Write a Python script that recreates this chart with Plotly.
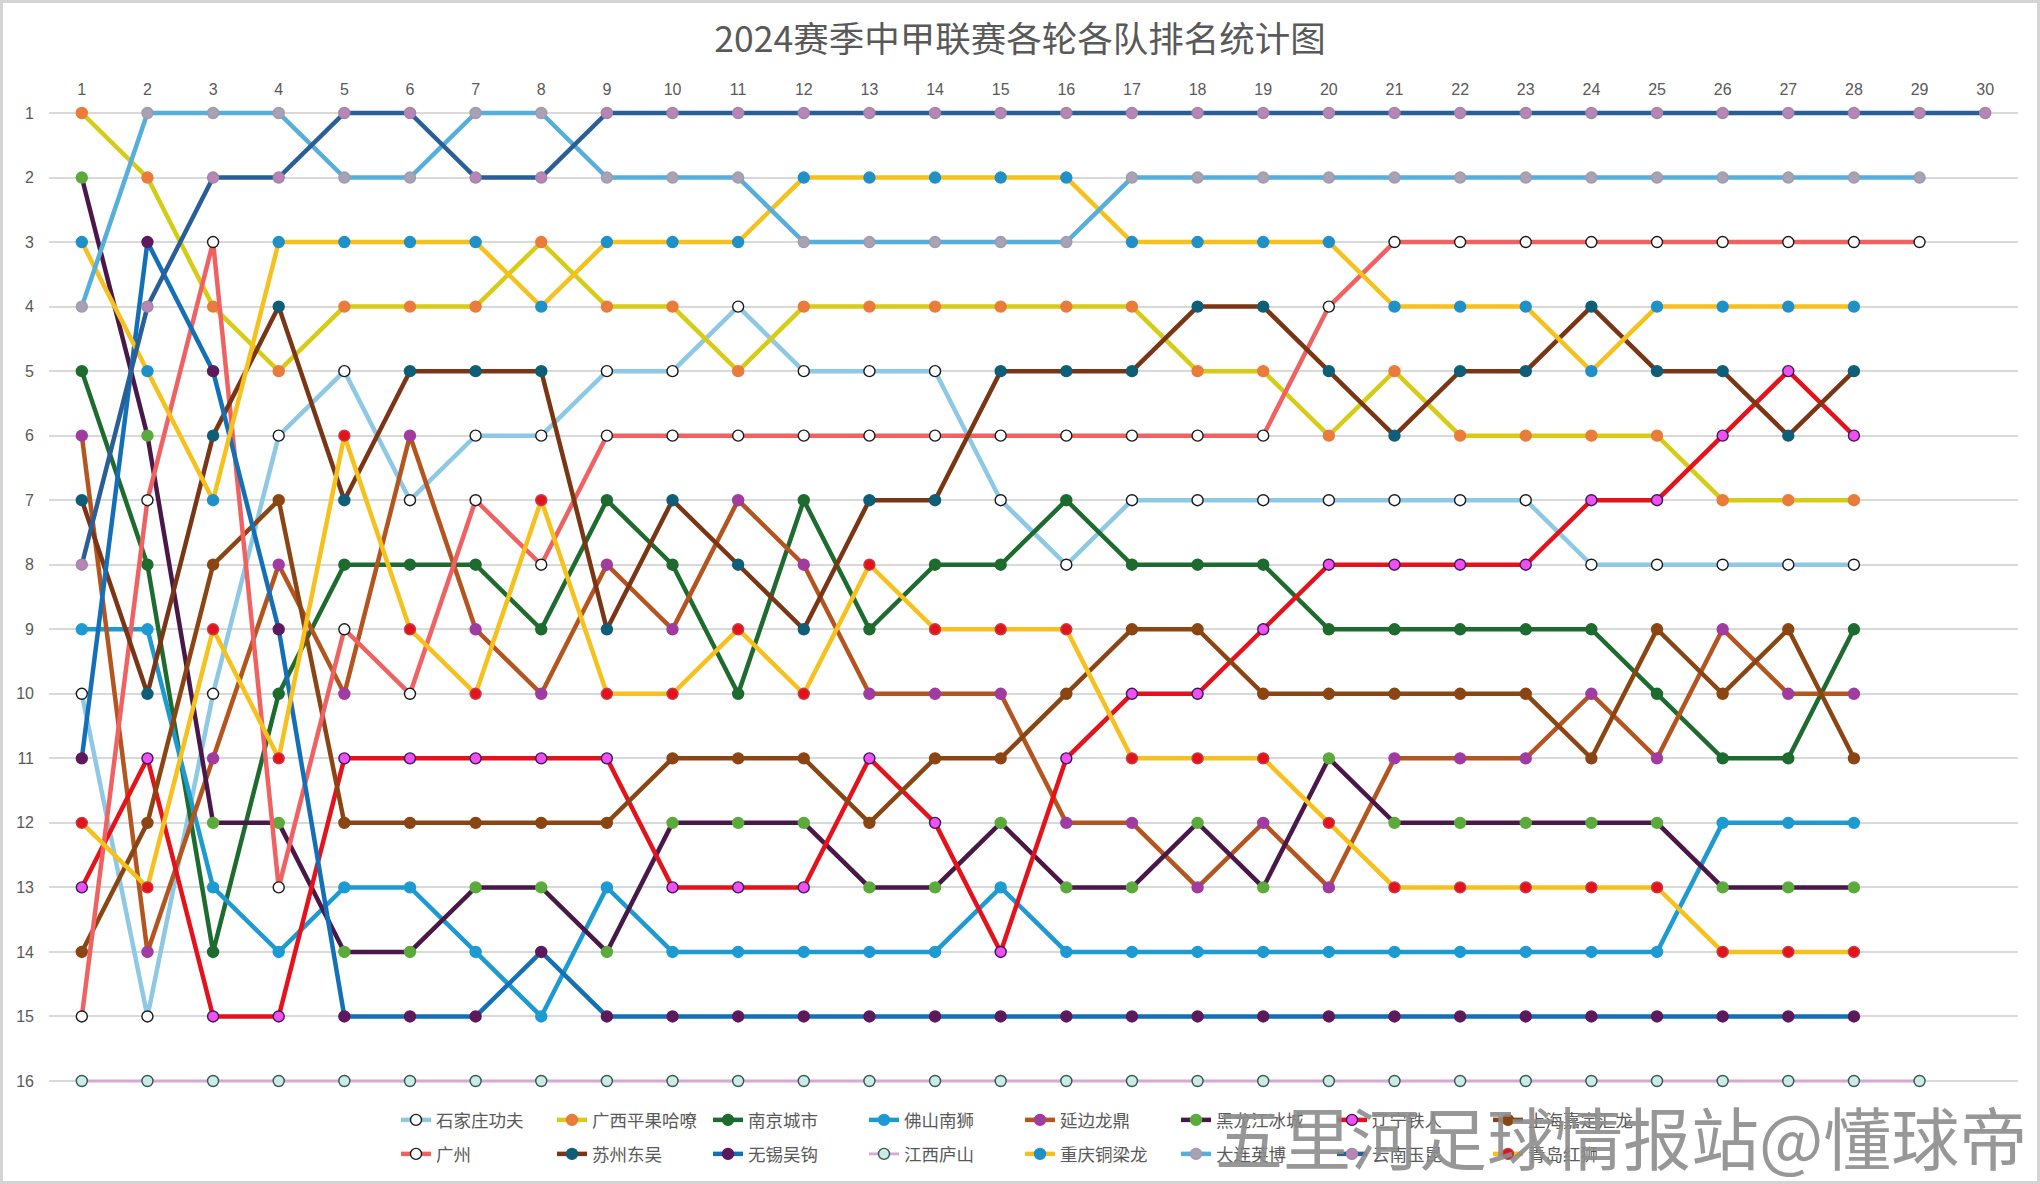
import plotly.graph_objects as go

rounds_all = list(range(1, 31))
x_tick_labels = [str(i) for i in rounds_all]
y_tick_labels = [str(i) for i in range(1, 17)]

title_text = "2024赛季中甲联赛各轮各队排名统计图"
watermark = "五里河足球情报站@懂球帝"

teams = ["石家庄功夫", "广西平果哈嘹", "南京城市", "佛山南狮", "延边龙鼎", "黑龙江冰城", "辽宁铁人", "上海嘉定汇龙",
         "广州", "苏州东吴", "无锡吴钩", "江西庐山", "重庆铜梁龙", "大连英博", "云南玉昆", "青岛红狮"]

# ranks per round (round 1 onward)
shijiazhuang = [10, 15, 10, 6, 5, 7, 6, 6, 5, 5, 4, 5, 5, 5, 7, 8, 7, 7, 7, 7, 7, 7, 7, 8, 8, 8, 8, 8]
guangxi = [1, 2, 4, 5, 4, 4, 4, 3, 4, 4, 5, 4, 4, 4, 4, 4, 4, 5, 5, 6, 5, 6, 6, 6, 6, 7, 7, 7]
nanjing = [5, 8, 14, 10, 8, 8, 8, 9, 7, 8, 10, 7, 9, 8, 8, 7, 8, 8, 8, 9, 9, 9, 9, 9, 10, 11, 11, 9]
foshan = [9, 9, 13, 14, 13, 13, 14, 15, 13, 14, 14, 14, 14, 14, 13, 14, 14, 14, 14, 14, 14, 14, 14, 14, 14, 12, 12, 12]
yanbian = [6, 14, 11, 8, 10, 6, 9, 10, 8, 9, 7, 8, 10, 10, 10, 12, 12, 13, 12, 13, 11, 11, 11, 10, 11, 9, 10, 10]
heilongjiang = [2, 6, 12, 12, 14, 14, 13, 13, 14, 12, 12, 12, 13, 13, 12, 13, 13, 12, 13, 11, 12, 12, 12, 12, 12, 13, 13, 13]
liaoning = [13, 11, 15, 15, 11, 11, 11, 11, 11, 13, 13, 13, 11, 12, 14, 11, 10, 10, 9, 8, 8, 8, 8, 7, 7, 6, 5, 6]
shanghai = [14, 12, 8, 7, 12, 12, 12, 12, 12, 11, 11, 11, 12, 11, 11, 10, 9, 9, 10, 10, 10, 10, 10, 11, 9, 10, 9, 11]
guangzhou = [15, 7, 3, 13, 9, 10, 7, 8, 6, 6, 6, 6, 6, 6, 6, 6, 6, 6, 6, 4, 3, 3, 3, 3, 3, 3, 3, 3, 3]
suzhou = [7, 10, 6, 4, 7, 5, 5, 5, 9, 7, 8, 9, 7, 7, 5, 5, 5, 4, 4, 5, 6, 5, 5, 4, 5, 5, 6, 5]
wuxi = [11, 3, 5, 9, 15, 15, 15, 14, 15, 15, 15, 15, 15, 15, 15, 15, 15, 15, 15, 15, 15, 15, 15, 15, 15, 15, 15, 15]
jiangxi = [16] * 29
chongqing = [3, 5, 7, 3, 3, 3, 3, 4, 3, 3, 3, 2, 2, 2, 2, 2, 3, 3, 3, 3, 4, 4, 4, 5, 4, 4, 4, 4]
dalian = [4, 1, 1, 1, 2, 2, 1, 1, 2, 2, 2, 3, 3, 3, 3, 3, 2, 2, 2, 2, 2, 2, 2, 2, 2, 2, 2, 2, 2]
yunnan = [8, 4, 2, 2, 1, 1, 2, 2, 1, 1, 1, 1, 1, 1, 1, 1, 1, 1, 1, 1, 1, 1, 1, 1, 1, 1, 1, 1, 1, 1]
qingdao = [12, 13, 9, 11, 6, 9, 10, 7, 10, 10, 9, 10, 8, 9, 9, 9, 11, 11, 11, 12, 13, 13, 13, 13, 13, 14, 14, 14]

series = [shijiazhuang, guangxi, nanjing, foshan, yanbian, heilongjiang, liaoning, shanghai,
          guangzhou, suzhou, wuxi, jiangxi, chongqing, dalian, yunnan, qingdao]

line_colors = ["#8DC8E5", "#D6CC16", "#1D6B2E", "#1E9AD3", "#B4541F", "#4A1848", "#E5121B", "#8B4513",
               "#F06262", "#7A3514", "#1370B8", "#D6A8D6", "#F6C11C", "#56AEDA", "#2A5E96", "#F6C11C"]
marker_colors = ["#FFFFFF", "#EA7B3B", "#1D6B2E", "#1E9AD3", "#A03CA0", "#5BAA3C", "#F050F0", "#8B4513",
                 "#FFFFFF", "#0E5E78", "#5C1A5C", "#CDEAE4", "#2090C8", "#A8A2B4", "#BA84BA", "#E5121B"]
marker_edges = ["#1A1A1A", "#EA7B3B", "#1D6B2E", "#1E9AD3", "#A03CA0", "#5BAA3C", "#3A1A5A", "#8B4513",
                "#1A1A1A", "#0E5E78", "#5C1A5C", "#2F5A55", "#2090C8", "#A09AAE", "#9A8A9E", "#C0404A"]
line_widths = [4.5] * 16
line_widths[11] = 2.8

W, H = 2040, 1184
ml, mr, mt, mb = 49, 22, 99, 78
pw = W - ml - mr
ph = H - mt - mb

def px2paper_x(p):
    return (p - ml) / pw

def px2paper_y(p):
    return (H - mb - p) / ph

fig = go.Figure()
for i, (name, ys) in enumerate(zip(teams, series)):
    fig.add_trace(go.Scatter(
        x=rounds_all[:len(ys)], y=ys, name=name, mode="lines+markers",
        line=dict(color=line_colors[i], width=line_widths[i]),
        marker=dict(size=11, color=marker_colors[i],
                    line=dict(color=marker_edges[i], width=1.4)),
        legend="legend" if i < 8 else "legend2",
    ))

legend_common = dict(orientation="h", font=dict(family="Noto Sans CJK SC", size=17.5, color="#595959"),
                     entrywidth=111, entrywidthmode="pixels", bgcolor="rgba(0,0,0,0)",
                     xanchor="left", yanchor="middle", itemwidth=30, traceorder="normal")

fig.update_layout(
    width=W, height=H,
    margin=dict(l=ml, r=mr, t=mt, b=mb),
    paper_bgcolor="white", plot_bgcolor="white",
    title=dict(text=title_text, x=0.5, xanchor="center", y=1 - 40 / H, yanchor="middle",
               font=dict(family="Noto Sans CJK SC", size=35.5, color="#595959")),
    xaxis=dict(range=[0.5, 30.5], side="top", tickmode="array", tickvals=rounds_all, ticktext=x_tick_labels,
               showgrid=False, zeroline=False, showline=False, ticks="",
               tickfont=dict(family="Liberation Sans", size=16, color="#595959")),
    yaxis=dict(range=[16 + 25 / 64.53, 1 - 14 / 64.53], tickmode="array", tickvals=list(range(1, 17)),
               ticktext=y_tick_labels, showgrid=True, gridcolor="#D9D9D9", gridwidth=1.5,
               zeroline=False, showline=False, ticks="", ticklabelstandoff=14,
               tickfont=dict(family="Liberation Sans", size=16, color="#595959")),
    legend=dict(x=px2paper_x(396), y=px2paper_y(1120), **legend_common),
    legend2=dict(x=px2paper_x(396), y=px2paper_y(1154), **legend_common),
    showlegend=True,
)

fig.add_annotation(text=watermark, xref="paper", yref="paper", x=px2paper_x(1621), y=px2paper_y(1135),
                   xanchor="center", yanchor="middle", showarrow=False,
                   font=dict(family="Noto Sans CJK SC", size=68, color="rgba(140,140,140,0.9)"))

fig.add_shape(type="rect", xref="paper", yref="paper",
              x0=px2paper_x(1.5), x1=px2paper_x(W - 1.5), y0=px2paper_y(H - 1.5), y1=px2paper_y(1.5),
              line=dict(color="#D4D4D4", width=3), fillcolor="rgba(0,0,0,0)", layer="above")

fig.write_html("out.html", config={"displayModeBar": False},
               post_script="document.body.style.margin='0';document.body.style.overflow='hidden';")
